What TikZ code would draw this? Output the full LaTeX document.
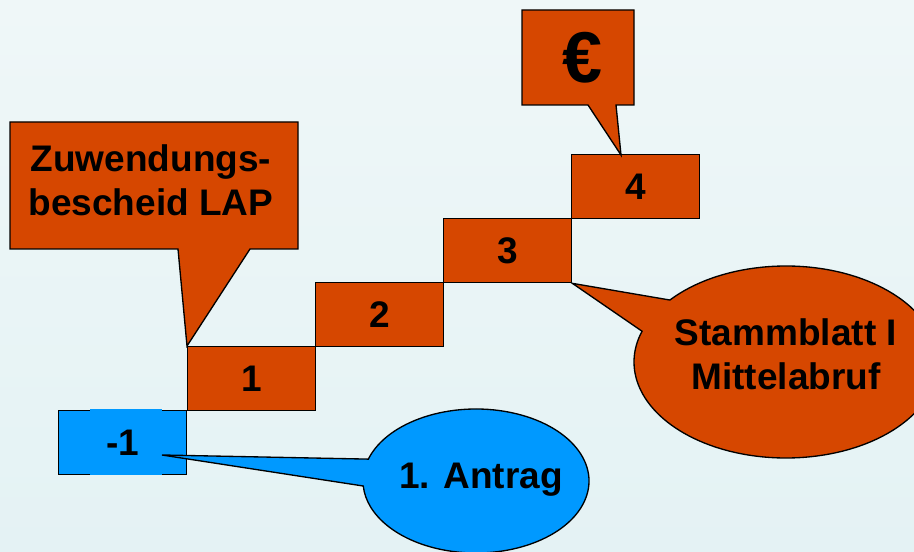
\documentclass[tikz,border=0pt]{standalone}
\usepackage{fontspec}
\setmainfont{Liberation Sans}
\usetikzlibrary{calc}
\definecolor{rust}{RGB}{214,71,0}
\definecolor{sky}{RGB}{0,153,255}
\definecolor{bgtop}{RGB}{239,247,248}
\definecolor{bgbot}{RGB}{228,242,244}
\begin{document}
\begin{tikzpicture}[x=0.75pt,y=-0.75pt,line join=miter,
  stepbox/.style={draw=black,line width=1pt,minimum width=96pt,minimum height=48pt,
    inner sep=0pt,anchor=north west,font=\bfseries\fontsize{27.75pt}{33pt}\selectfont},
  callshape/.style={draw=black,line width=1pt},
  lbl/.style={inner sep=0pt,font=\bfseries\fontsize{27.75pt}{33pt}\selectfont}]
\useasboundingbox (0,0) rectangle (914,552);
\clip (0,0) rectangle (914,552);
\shade[top color=bgtop,bottom color=bgbot] (0,0) rectangle (914,552);

% steps
\node[stepbox,fill=sky]  (bm1) at (58,410)  {};
\fill[sky] (90,408.8) rectangle (162,475.2);
\node[lbl] at (bm1.center) {-1};
\node[stepbox,fill=rust] (b1)  at (187,346) {1};
\node[stepbox,fill=rust] (b2)  at (315,282) {2};
\node[stepbox,fill=rust] (b3)  at (443,218) {3};
\node[stepbox,fill=rust] (b4)  at (571,154) {4};

% rectangular callouts
\draw[callshape,fill=rust] (10,122) -- (298,122) -- (298,249) -- (250,249)
  -- (b1.north west) -- (178,249) -- (10,249) -- cycle;
\draw[callshape,fill=rust] (522,10) -- (634,10) -- (634,105) -- (616,105)
  -- (621,155) -- (588,105) -- (522,105) -- cycle;

% elliptical callouts
\draw[callshape,fill=rust] (b3.south east)
  -- ($(786,362)+(139.8:114pt and 72pt)$)
  arc[start angle=139.8,end angle=-198.7,x radius=114pt,y radius=72pt] -- cycle;
\draw[callshape,fill=sky] (162,455)
  -- ($(476,481)+(162.3:84.75pt and 54pt)$)
  arc[start angle=162.3,end angle=-176,x radius=84.75pt,y radius=54pt] -- cycle;

% texts
\node[lbl,align=center] (tz) at (151,180.5) {Zuwendungs-\\bescheid LAP};
\node[lbl,anchor=base,font=\bfseries\fontsize{54pt}{58pt}\selectfont] (te) at (583,83) {€};
\node[lbl,align=center] (ts) at (786,354) {Stammblatt I\\Mittelabruf};
\node[lbl,anchor=base] (ta) at (481,488) {1. Antrag};
\end{tikzpicture}
\end{document}
